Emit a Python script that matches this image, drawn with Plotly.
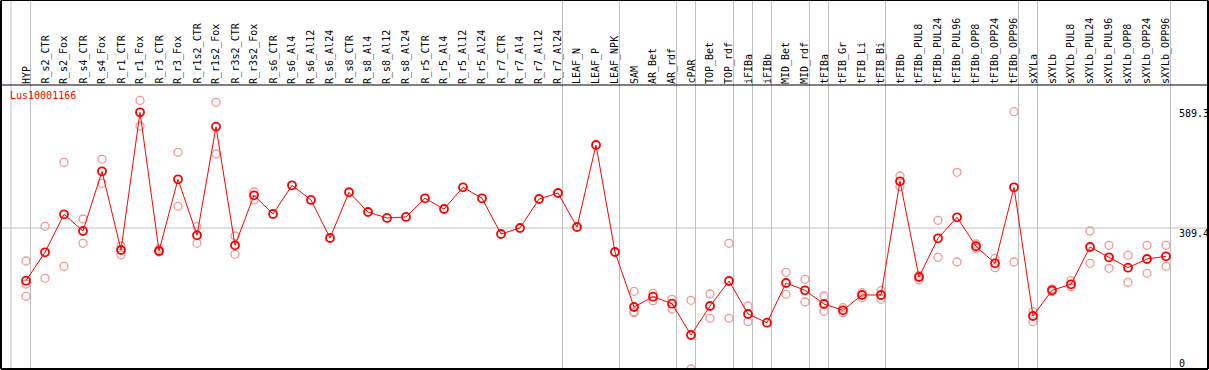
import plotly.graph_objects as go

categories = ["HYP", "R_s2_CTR", "R_s2_Fox", "R_s4_CTR", "R_s4_Fox", "R_r1_CTR", "R_r1_Fox",
              "R_r3_CTR", "R_r3_Fox", "R_r1s2_CTR", "R_r1s2_Fox", "R_r3s2_CTR", "R_r3s2_Fox",
              "R_s6_CTR", "R_s6_Al4", "R_s6_Al12", "R_s6_Al24", "R_s8_CTR", "R_s8_Al4",
              "R_s8_Al12", "R_s8_Al24", "R_r5_CTR", "R_r5_Al4", "R_r5_Al12", "R_r5_Al24",
              "R_r7_CTR", "R_r7_Al4", "R_r7_Al12", "R_r7_Al24", "LEAF_N", "LEAF_P", "LEAF_NPK",
              "SAM", "AR_Bet", "AR_rdf", "cPAR", "TOP_Bet", "TOP_rdf", "iFIBa", "iFIBb",
              "MID_Bet", "MID_rdf", "tFIBa", "tFIB_Gr", "tFIB_Li", "tFIB_Bi", "tFIBb",
              "tFIBb_PUL8", "tFIBb_PUL24", "tFIBb_PUL96", "tFIBb_OPP8", "tFIBb_OPP24",
              "tFIBb_OPP96", "sXYLa", "sXYLb", "sXYLb_PUL8", "sXYLb_PUL24", "sXYLb_PUL96",
              "sXYLb_OPP8", "sXYLb_OPP24", "sXYLb_OPP96"]

mean_values = [193.8, 256.1, 339.5, 302.8, 433.8, 261.1, 563.3, 258.9, 416.3, 293.4, 531.7,
               271.4, 381.2, 340.1, 403.1, 370.9, 287.5, 387.8, 344.5, 331.4, 333.6, 374.6,
               351.1, 398.7, 374.6, 296.2, 309.4, 373.0, 386.2, 311.6, 491.5, 256.7, 136.1,
               158.7, 143.3, 74.6, 138.2, 193.1, 120.7, 101.6, 188.7, 172.7, 142.6, 128.8,
               162.4, 162.4, 411.9, 201.9, 286.8, 332.9, 269.3, 231.9, 398.7, 116.3, 172.7,
               185.9, 267.7, 245.1, 222.3, 241.4, 247.3]

rep_categories = ["HYP", "HYP", "HYP", "R_s2_CTR", "R_s2_CTR", "R_s2_Fox", "R_s2_Fox",
                  "R_s4_CTR", "R_s4_CTR", "R_s4_Fox", "R_s4_Fox", "R_r1_CTR", "R_r1_CTR",
                  "R_r1_Fox", "R_r1_Fox", "R_r3_CTR", "R_r3_CTR", "R_r3_Fox", "R_r3_Fox",
                  "R_r1s2_CTR", "R_r1s2_CTR", "R_r1s2_Fox", "R_r1s2_Fox", "R_r3s2_CTR",
                  "R_r3s2_CTR", "R_r3s2_Fox", "R_r3s2_Fox", "SAM", "SAM", "SAM",
                  "AR_Bet", "AR_Bet", "AR_rdf", "AR_rdf", "cPAR", "cPAR", "TOP_Bet", "TOP_Bet",
                  "TOP_rdf", "TOP_rdf", "iFIBa", "iFIBa", "MID_Bet", "MID_Bet",
                  "MID_rdf", "MID_rdf", "tFIBa", "tFIBa", "tFIB_Gr", "tFIB_Gr",
                  "tFIB_Li", "tFIB_Li", "tFIB_Bi", "tFIB_Bi", "tFIBb", "tFIBb",
                  "tFIBb_PUL8", "tFIBb_PUL8", "tFIBb_PUL24", "tFIBb_PUL24",
                  "tFIBb_PUL96", "tFIBb_PUL96", "tFIBb_OPP8", "tFIBb_OPP8",
                  "tFIBb_OPP24", "tFIBb_OPP24", "tFIBb_OPP96", "tFIBb_OPP96",
                  "sXYLa", "sXYLa", "sXYLb", "sXYLb", "sXYLb_PUL8", "sXYLb_PUL8",
                  "sXYLb_PUL24", "sXYLb_PUL24", "sXYLb_PUL96", "sXYLb_PUL96",
                  "sXYLb_OPP8", "sXYLb_OPP8", "sXYLb_OPP24", "sXYLb_OPP24",
                  "sXYLb_OPP96", "sXYLb_OPP96"]

rep_values = [237.0, 186.5, 159.5, 313.1, 199.0, 453.6, 225.4,
              329.2, 275.8, 460.2, 407.5, 269.9, 250.2,
              589.3, 533.2, 263.3, 256.7, 475.5, 357.0,
              312.3, 275.8, 585.0, 471.8, 291.9,
              251.7, 388.4, 370.9, 170.5, 125.7, 123.5,
              166.1, 149.9, 152.9, 131.7, 150.8, 0.0, 164.6, 111.3,
              275.8, 111.3, 138.2, 103.8, 212.2, 163.9,
              196.8, 147.0, 160.2, 127.3, 134.5, 123.5,
              167.4, 156.5, 171.8, 152.9, 423.5, 400.0,
              205.6, 195.3, 326.3, 245.1,
              431.6, 234.8, 274.3, 264.9,
              242.9, 222.3, 564.6, 234.8,
              125.7, 103.8, 175.6, 169.6, 193.8, 180.6,
              302.8, 231.9, 271.4, 221.0,
              249.5, 190.3, 271.4, 210.0,
              271.4, 225.4]

group_last = ["HYP", "R_r7_Al24", "LEAF_NPK", "AR_rdf", "cPAR", "TOP_rdf", "iFIBa", "iFIBb",
              "MID_rdf", "tFIBa", "tFIB_Bi", "tFIBb_OPP96", "sXYLa", "sXYLb_OPP96"]

gene_label = "Lus10001166"
scale_labels = ["589.3", "309.4", "0"]
scale_values = [589.3, 309.4, 0.0]
ref_line_value = 309.4

idx = {c: i for i, c in enumerate(categories)}
xm = list(range(len(categories)))
xr = [idx[c] for c in rep_categories]

W, H = 1209, 370
ML, MR, MT, MB = 1, 1, 85, 1
step = 19.0
x0px = 26.0
plot_w = W - ML - MR
xmin = (ML - x0px) / step
xmax = xmin + plot_w / step

k = 141.0 / 309.4  # px per unit
ymax = (H - MB - MT) / k

font = "DejaVu Sans Mono"
fig = go.Figure()

fig.add_trace(go.Scatter(x=xr, y=rep_values, mode="markers",
                         marker=dict(symbol="circle-open", size=8, color="#ee9999",
                                     line=dict(width=1.3, color="#ee9999")),
                         hoverinfo="skip", showlegend=False))
fig.add_trace(go.Scatter(x=xm, y=mean_values, mode="lines+markers",
                         line=dict(color="#ff0000", width=1),
                         marker=dict(symbol="circle-open", size=8, color="#ff0000",
                                     line=dict(width=1.8, color="#ff0000")),
                         showlegend=False))

shapes = []
shapes.append(dict(type="line", xref="paper", yref="y", x0=0, x1=1, y0=ref_line_value,
                   y1=ref_line_value, line=dict(color="#c0c0c0", width=1), layer="below"))
top_paper = (H - MB - 0.5) / (H - MT - MB)
sep_pos = [-0.79] + [idx[c] + 0.237 for c in group_last]
for s in sep_pos:
    shapes.append(dict(type="line", xref="x", yref="paper", x0=s, x1=s, y0=0, y1=top_paper,
                       line=dict(color="#c0c0c0", width=1), layer="below"))
black = dict(color="#000000", width=1)
shapes.append(dict(type="line", xref="paper", yref="paper", x0=0, x1=1, y0=top_paper, y1=top_paper, line=black))
shapes.append(dict(type="line", xref="paper", yref="paper", x0=0, x1=1, y0=1, y1=1, line=black))
shapes.append(dict(type="line", xref="paper", yref="paper", x0=0, x1=1, y0=0, y1=0, line=dict(color="#000000", width=2)))
shapes.append(dict(type="line", xref="paper", yref="paper", x0=0, x1=0, y0=0, y1=top_paper, line=dict(color="#000000", width=2)))
shapes.append(dict(type="line", xref="paper", yref="paper", x0=1, x1=1, y0=0, y1=top_paper, line=dict(color="#000000", width=2)))

annotations = []
for i, c in enumerate(categories):
    annotations.append(dict(x=i, y=1, xref="x", yref="paper", text=c, textangle=-90,
                            showarrow=False, xanchor="center", yanchor="bottom",
                            font=dict(family=font, size=10, color="#000000"),
                            borderpad=0, yshift=0))
annotations.append(dict(x=(9 - ML) / plot_w, y=1, xref="paper", yref="paper", text=gene_label,
                        showarrow=False, xanchor="left", yanchor="top", yshift=-4, borderpad=0,
                        font=dict(family=font, size=10, color="#ff0000")))
label_shift = [-13, -5, 6]
for t, v, sh in zip(scale_labels, scale_values, label_shift):
    annotations.append(dict(x=(1178 - ML) / plot_w, y=v, xref="paper", yref="y", text=t,
                            showarrow=False, xanchor="left", yanchor="middle", yshift=sh,
                            borderpad=0,
                            font=dict(family=font, size=10, color="#000000")))

fig.update_layout(
    width=W, height=H,
    margin=dict(l=ML, r=MR, t=MT, b=MB, pad=0),
    paper_bgcolor="#ffffff", plot_bgcolor="#ffffff",
    xaxis=dict(range=[xmin, xmax], showgrid=False, zeroline=False, showticklabels=False,
               ticks="", showline=False),
    yaxis=dict(range=[0, ymax], showgrid=False, zeroline=False, showticklabels=False,
               ticks="", showline=False),
    shapes=shapes, annotations=annotations,
)

fig.write_html("out.html", config={"displayModeBar": False},
               post_script="document.body.style.margin='0';document.body.style.overflow='hidden';")
